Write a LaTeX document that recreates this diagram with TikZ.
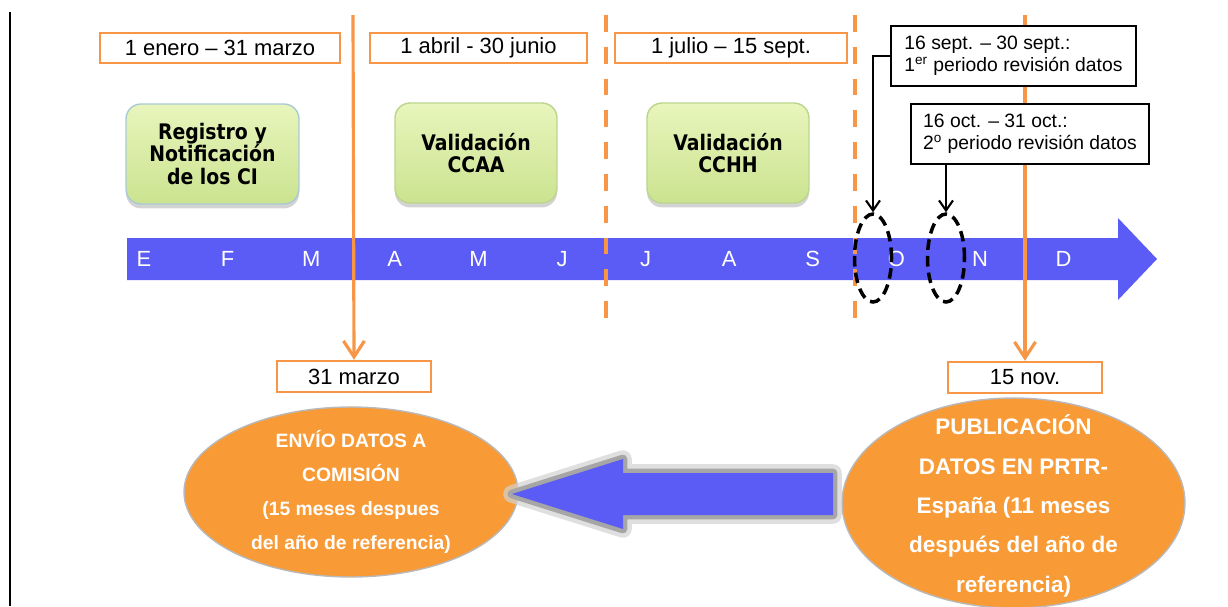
\documentclass[tikz,border=0pt]{standalone}
\usepackage{fontspec}
\setmainfont{Liberation Sans}
\newfontfamily\boxfont{DejaVu Sans}[FakeStretch=0.88]
\usetikzlibrary{arrows.meta,shapes.geometric,shadows}
\definecolor{tlorange}{HTML}{F79646}
\definecolor{tlfill}{HTML}{F89A36}
\definecolor{tlblue}{HTML}{5B5BF6}
\definecolor{tltop}{HTML}{E8F5BC}
\definecolor{tlbottom}{HTML}{CBE390}
\definecolor{tlrim}{HTML}{A9CAD4}
\definecolor{tlrimg}{HTML}{BCD58C}
\tikzset{
  period/.style={draw=tlorange,fill=white,line width=1.4pt,minimum height=0.6cm,inner sep=0pt,font=\fontsize{12.5}{14}\selectfont},
  review/.style={draw,fill=white,line width=1.2pt,minimum height=1.2cm,align=left,font=\fontsize{11}{12.5}\selectfont},
  task/.style={rounded corners=0.3cm,top color=tltop,bottom color=tlbottom,draw=tlrimg,line width=0.8pt,
    drop shadow={shadow xshift=0pt,shadow yshift=-2.5pt,opacity=0.35},minimum height=2cm,align=center,
    font=\boxfont\bfseries\fontsize{12.2}{13}\selectfont},
  month/.style={text=white,font=\fontsize{12.5}{14}\selectfont},
  stage/.style={ellipse,fill=tlfill,draw=gray!55,line width=0.8pt,inner sep=0pt},
  stagetext/.style={text=white,align=center,inner sep=0pt},
  spot/.style={ellipse,draw,line width=2pt,dash pattern=on 6pt off 3.5pt,minimum width=0.74cm,minimum height=1.76cm,inner sep=0pt},
  limit/.style={draw=tlorange,line width=1.8pt},
  limitdash/.style={draw=tlorange,line width=1.8pt,dash pattern=on 9.6pt off 8.5pt}
}
\begin{document}
\begin{tikzpicture}[x=0.02cm,y=-0.02cm]
\useasboundingbox (0,0) rectangle (1228,606);
\draw [line width=1.5pt] (10,12) -- (10,606);
% time line
\fill [tlblue] (127,238) -- (1118,238) -- (1118,218) -- (1157,259) -- (1118,300) -- (1118,280) -- (127,280) -- cycle;
\foreach \m [count=\i] in {E,F,M,A,M,J,J,A,S,O,N,D}
  \node [month] (m\i) at ({60.4+83.6*\i},259) {\m};
% periods
\node [period,minimum width=4.8cm] (p1) at (220,48) {1 enero -- 31 marzo};
\node [period,minimum width=4.34cm] (p2) at (478.5,48) {1 abril - 30 junio};
\node [period,minimum width=4.64cm] (p3) at (731,48) {1 julio -- 15 sept.};
\node [task,draw=tlrim,minimum width=3.46cm] (g1) at (212.5,154) {Registro y\\Notificación\\de los CI};
\node [task,minimum width=3.24cm] (g2) at (476,153) {Validación\\CCAA};
\node [task,minimum width=3.24cm] (g3) at (728,153) {Validación\\CCHH};
% dates
\node [period,minimum width=3.08cm,minimum height=0.62cm] (d1) at (354,376.5) {31 marzo};
\node [period,minimum width=3.08cm,minimum height=0.62cm] (d2) at (1025,377.5) {15 nov.};
\coordinate (t1) at (353,15);
\coordinate (t2) at (1025,15);
\draw [limit,-{Straight Barb[length=0.32cm,width=0.42cm]}] (t1) -- (d1.north);
\draw [limit,-{Straight Barb[length=0.32cm,width=0.42cm]}] (t2) -- (d2.north);
\draw [limitdash] (606,15) -- (606,330);
\draw [limitdash] (855,15) -- (855,330);
% review windows
\node [spot] (o1) at (873,258) {};
\node [spot] (o2) at (946,258) {};
\node [review,minimum width=4.9cm] (r1) at (1013.5,56) {16 sept. -- 30 sept.:\\1\textsuperscript{er} periodo revisión datos};
\node [review,minimum width=4.76cm] (r2) at (1030,134) {16 oct. -- 31 oct.:\\2\textsuperscript{o} periodo revisión datos};
\draw [line width=1.2pt,-{Straight Barb[length=0.2cm,width=0.28cm]}] (r1.west) -| (o1.north);
\draw [line width=1.2pt,-{Straight Barb[length=0.2cm,width=0.28cm]}] (o2.north |- r2.south) -- (o2.north);
% results
\node [stage,minimum width=6.68cm,minimum height=3.4cm] (c1) at (351,492) {};
\node [stagetext,font=\bfseries\fontsize{11}{19.3}\selectfont] (c1t) at (c1) {ENVÍO DATOS A\\COMISIÓN\\(15 meses despues\\del año de referencia)};
\node [stage,minimum width=6.86cm,minimum height=4.2cm] (c2) at (1013.5,503) {};
\node [stagetext,font=\bfseries\fontsize{12.8}{22.4}\selectfont] (c2t) at (1013.5,506)
  {PUBLICACIÓN\\DATOS EN PRTR-\\España (11 meses\\después del año de\\referencia)};
\path [fill=tlblue,preaction={draw=gray!35,line width=10pt,line join=round,opacity=0.7},
  preaction={draw=gray!70,line width=5pt,line join=round}]
  (512,494) -- (623,459) -- (623,473) -- (833,473) -- (833,515) -- (623,515) -- (623,529) -- cycle;
\end{tikzpicture}
\end{document}
